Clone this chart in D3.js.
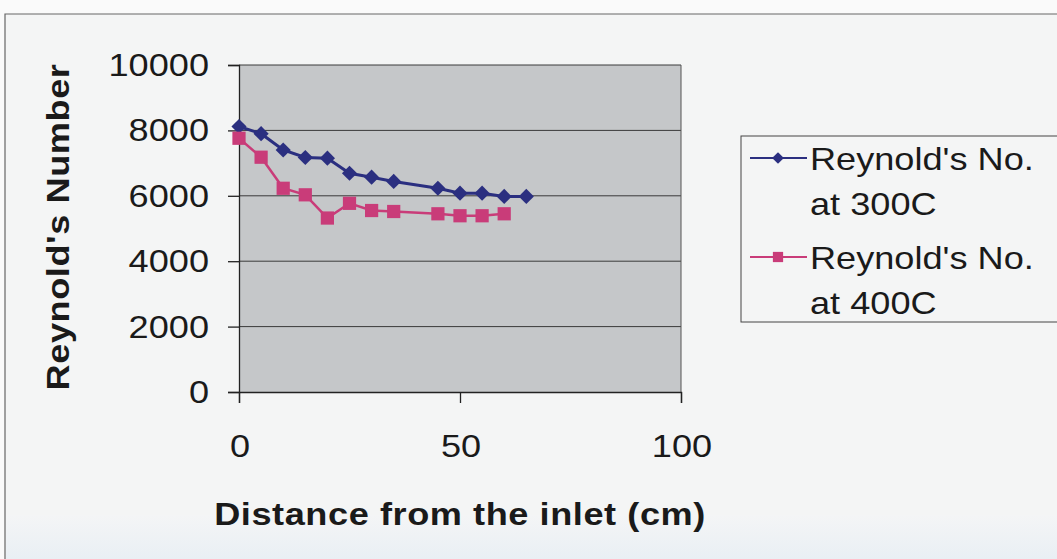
<!DOCTYPE html>
<html>
<head>
<meta charset="utf-8">
<script src="https://cdn.jsdelivr.net/npm/d3@7"></script>
<style>
    body { margin: 0; background: #ffffff; }
    svg text { font-family: "Liberation Sans", Arial, sans-serif; fill: #1a1a1a; }
</style>
</head>
<body>
<div id="chart"></div>
<script>
// distances (cm) and Reynold's numbers
const distance300 = [0, 5, 10, 15, 20, 25, 30, 35, 45, 50, 55, 60, 65];
const reynolds300 = [8120, 7900, 7400, 7170, 7150, 6690, 6570, 6440, 6230, 6080, 6080, 5980, 5980];
const distance400 = [0, 5, 10, 15, 20, 25, 30, 35, 45, 50, 55, 60];
const reynolds400 = [7760, 7180, 6230, 6030, 5320, 5770, 5550, 5520, 5450, 5390, 5390, 5450];

const seriesNames = ["Reynold's No.|at 300C", "Reynold's No.|at 400C"];
const yTicks = [0, 2000, 4000, 6000, 8000, 10000];
const xTicks = [0, 50, 100];

const width = 1057, height = 559;
const plot = {left: 239, right: 681, top: 65, bottom: 392};
const stretch = 1.13; // the scanned text is a little wide

const svg = d3.select('#chart').append('svg')
    .attr('width', width)
    .attr('height', height);

// page background + the faint blue band at the bottom
const defs = svg.append('defs');
const grad = defs.append('linearGradient').attr('id', 'bottomBand')
    .attr('x1', 0).attr('y1', 0).attr('x2', 0).attr('y2', 1);
grad.append('stop').attr('offset', '0%').attr('stop-color', '#f4f5f6');
grad.append('stop').attr('offset', '100%').attr('stop-color', '#e9eff4');

svg.append('rect').attr('width', width).attr('height', height).attr('fill', '#fafafa');
svg.append('rect').attr('x', 5).attr('y', 14).attr('width', width - 5).attr('height', height - 14)
    .attr('fill', '#f4f5f5');
svg.append('rect').attr('x', 6).attr('y', 515).attr('width', width - 6).attr('height', height - 515)
    .attr('fill', 'url(#bottomBand)');
// chart frame (left and top edges only are visible)
svg.append('path')
    .attr('d', `M5,${height} V14 H${width}`)
    .attr('fill', 'none').attr('stroke', '#666').attr('stroke-width', 1.2);

const x = d3.scaleLinear().domain([0, 100]).range([plot.left, plot.right]);
const y = d3.scaleLinear().domain([0, 10000]).range([plot.bottom, plot.top]);

// plot area
svg.append('rect')
    .attr('x', plot.left).attr('y', plot.top)
    .attr('width', plot.right - plot.left).attr('height', plot.bottom - plot.top)
    .attr('fill', '#c5c7c9');

// gridlines
svg.append('g').attr('id', 'gridG')
    .selectAll('line')
    .data(yTicks.filter(d => d > 0))
    .join('line')
    .attr('x1', plot.left).attr('x2', plot.right)
    .attr('y1', d => y(d)).attr('y2', d => y(d))
    .attr('stroke', '#3a3a3a').attr('stroke-width', 1);

svg.append('line')
    .attr('x1', plot.right).attr('x2', plot.right)
    .attr('y1', plot.top).attr('y2', plot.bottom)
    .attr('stroke', '#555').attr('stroke-width', 1);

// axes (tick marks only, labels drawn by hand below so they can be stretched)
svg.append('g')
    .attr('transform', `translate(${plot.left},0)`)
    .call(d3.axisLeft(y).tickValues(yTicks).tickSize(11).tickFormat(''))
    .call(g => g.selectAll('path, line').attr('stroke', '#222').attr('stroke-width', 1.3));

svg.append('g')
    .attr('transform', `translate(0,${plot.bottom})`)
    .call(d3.axisBottom(x).tickValues(xTicks).tickSize(11).tickFormat(''))
    .call(g => g.selectAll('path, line').attr('stroke', '#222').attr('stroke-width', 1.3));

svg.append('g').attr('id', 'yLabelG')
    .selectAll('text')
    .data(yTicks)
    .join('text')
    .attr('transform', d => `translate(209,${y(d) + 11}) scale(${stretch},1)`)
    .attr('text-anchor', 'end')
    .style('font-size', '32px')
    .text(d => d);

svg.append('g').attr('id', 'xLabelG')
    .selectAll('text')
    .data(xTicks)
    .join('text')
    .attr('transform', d => `translate(${x(d) + 1},457) scale(${stretch},1)`)
    .attr('text-anchor', 'middle')
    .style('font-size', '32px')
    .text(d => d);

// axis titles
svg.append('text')
    .attr('transform', `translate(460,525) scale(${stretch},1)`)
    .attr('text-anchor', 'middle')
    .style('font-size', '32px').style('font-weight', 'bold').style('letter-spacing', '0.5px')
    .text('Distance from the inlet (cm)');

svg.append('text')
    .attr('transform', `translate(69,227) rotate(-90) scale(${stretch},1)`)
    .attr('text-anchor', 'middle')
    .style('font-size', '32px').style('font-weight', 'bold').style('letter-spacing', '0.5px')
    .text("Reynold's Number");

// series: diamonds are squares turned 45 degrees
const series = [
    {xs: distance300, ys: reynolds300, color: '#2b2f80', size: 115, rot: 45, width: 3},
    {xs: distance400, ys: reynolds400, color: '#c93c79', size: 175, rot: 0, width: 2.5}
];

const line = d3.line().x(d => x(d[0])).y(d => y(d[1]));

series.forEach((s, i) => {
    let pts = s.xs.map((d, j) => [d, s.ys[j]]);
    let g = svg.append('g').attr('id', 'seriesG' + i);
    g.append('path')
        .datum(pts)
        .attr('d', line)
        .attr('fill', 'none')
        .attr('stroke', s.color)
        .attr('stroke-width', s.width);
    g.selectAll('path.marker')
        .data(pts)
        .join('path')
        .attr('class', 'marker')
        .attr('d', d3.symbol().type(d3.symbolSquare).size(s.size))
        .attr('transform', d => `translate(${x(d[0])},${y(d[1])}) rotate(${s.rot})`)
        .attr('fill', s.color);
});

// legend
const legend = svg.append('g').attr('id', 'legendG');
legend.append('rect')
    .attr('x', 741).attr('y', 136)
    .attr('width', 330).attr('height', 186)
    .attr('fill', '#f4f5f5')
    .attr('stroke', '#444').attr('stroke-width', 1);

const legendRows = [158, 257];
series.forEach((s, i) => {
    let ly = legendRows[i];
    legend.append('line')
        .attr('x1', 750).attr('x2', 807)
        .attr('y1', ly).attr('y2', ly)
        .attr('stroke', s.color).attr('stroke-width', 2);
    legend.append('path')
        .attr('d', d3.symbol().type(d3.symbolSquare).size(s.size * 0.6))
        .attr('transform', `translate(778,${ly}) rotate(${s.rot})`)
        .attr('fill', s.color);
    seriesNames[i].split('|').forEach((t, k) => {
        legend.append('text')
            .attr('transform', `translate(810,${ly + 12 + k * 45}) scale(${stretch},1)`)
            .style('font-size', '32px')
            .text(t);
    });
});
</script>
</body>
</html>
